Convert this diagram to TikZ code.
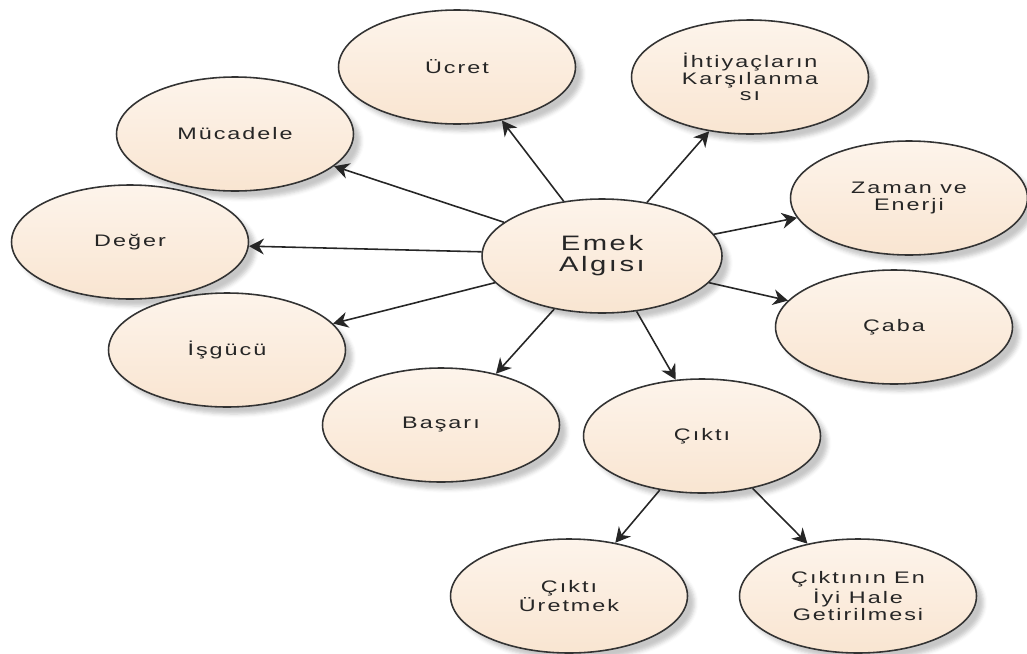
\documentclass[tikz,border=0pt]{standalone}
\usepackage{fontspec}
\setmainfont{Liberation Sans}[FakeStretch=1.4,LetterSpace=12]
\usetikzlibrary{shapes.geometric,arrows.meta,shadows.blur}

\begin{document}
\begin{tikzpicture}[x=0.02cm, y=-0.02cm,
	bubble/.style={ellipse, draw=black!80, line width=0.9pt, minimum width=4.74cm, minimum height=2.28cm, inner sep=0pt, align=center, top color=peachtop, bottom color=peachbot, text=black!85, font=\fontsize{9.5}{9.5}\selectfont, blur shadow={shadow xshift=4pt, shadow yshift=-4pt, shadow opacity=22}},
	arr/.style={line width=0.9pt, black!85, -{Stealth[length=8.5pt, width=9pt]}}]
	\definecolor{peachtop}{RGB}{253,244,235}
	\definecolor{peachbot}{RGB}{249,229,209}
	\useasboundingbox (0,0) rectangle (1027,653);
	
	\node[bubble, minimum width=4.8cm, font=\fontsize{11.9}{11.9}\selectfont] (emek) at (602,256) {Emek\\Algısı};
	\node[bubble] (ucret) at (457,67) {Ücret};
	\node[bubble] (ihtiyac) at (750,77) {İhtiyaçların\\Karşılanma\\sı};
	\node[bubble] (mucadele) at (235,134) {Mücadele};
	\node[bubble] (deger) at (130,242) {Değer};
	\node[bubble] (zaman) at (909,198) {Zaman ve\\Enerji};
	\node[bubble] (isgucu) at (227,350) {İşgücü};
	\node[bubble] (caba) at (894,327) {Çaba};
	\node[bubble] (basari) at (441,425) {Başarı};
	\node[bubble] (cikti) at (702,436) {Çıktı};
	\node[bubble] (uretmek) at (569,596) {Çıktı\\Üretmek};
	\node[bubble] (eniyi) at (858,596) {Çıktının En\\İyi Hale\\Getirilmesi};
	
	\foreach \to/\a/\b in {ucret/125.5/-50, ihtiyac/50.6/-127, mucadele/161/-18.4, deger/178.6/-2.4, isgucu/-166/14.8, zaman/11.3/190, caba/-14/166.8, cikti/-58.6/115, basari/-132/43} {
		\draw[arr] (emek.\a) -- (\to.\b);
	}
	\draw[arr] (cikti.-128) -- (uretmek.49);
	\draw[arr] (cikti.-46.6) -- (eniyi.134);
\end{tikzpicture}
\end{document}
